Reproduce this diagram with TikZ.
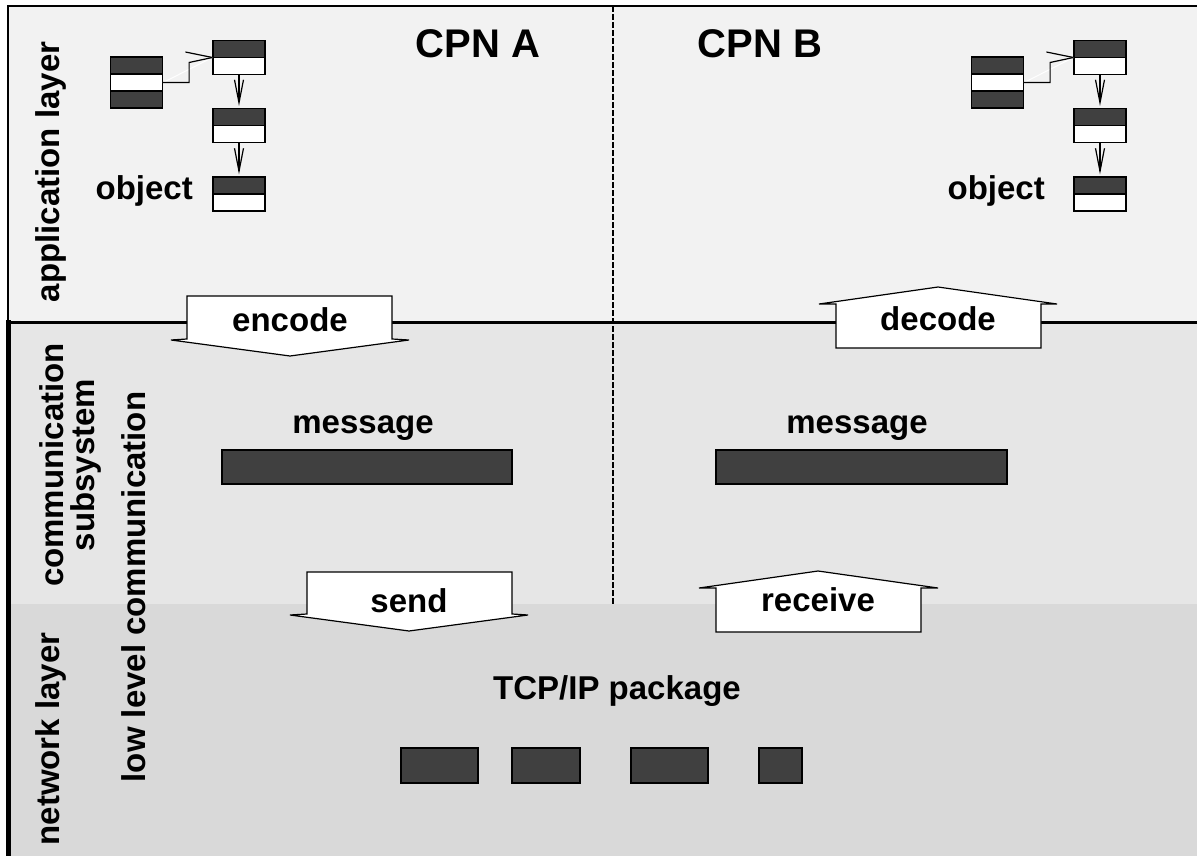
\documentclass[tikz,border=0pt]{standalone}
\usepackage{fontspec}
\setmainfont{Liberation Sans}
\usetikzlibrary{arrows.meta,calc}
\definecolor{appbg}{HTML}{F2F2F2}
\definecolor{commbg}{HTML}{E6E6E6}
\definecolor{netbg}{HTML}{D9D9D9}
\definecolor{dk}{HTML}{404040}
\begin{document}
\begin{tikzpicture}[x=1pt,y=-1pt,
  lbl/.style={font=\fontsize{33}{33}\selectfont\bfseries, inner sep=0pt},
  biglbl/.style={font=\fontsize{40}{40}\selectfont\bfseries, inner sep=0pt},
  vlbl/.style={lbl, rotate=90},
  bararrow/.style={draw=black, fill=white, line width=1.2pt, line join=miter},
  darkbox/.style={draw=black, fill=dk, line width=1.2pt},
  obj2/.style={draw=black, line width=1.2pt, fill=white, minimum width=52pt, minimum height=34pt, inner sep=0pt,
    path picture={\fill[dk] (path picture bounding box.north west) rectangle (path picture bounding box.east);
      \draw[line width=1.2pt] (path picture bounding box.west) -- (path picture bounding box.east);}},
  obj3/.style={draw=black, line width=1.2pt, fill=white, minimum width=52pt, minimum height=51pt, inner sep=0pt,
    path picture={\fill[dk] (path picture bounding box.north west) rectangle ([yshift=-17pt]path picture bounding box.north east);
      \fill[dk] (path picture bounding box.south west) rectangle ([yshift=17pt]path picture bounding box.south east);
      \draw[line width=1.2pt] ([yshift=-17pt]path picture bounding box.north west) -- ([yshift=-17pt]path picture bounding box.north east);
      \draw[line width=1.2pt] ([yshift=17pt]path picture bounding box.south west) -- ([yshift=17pt]path picture bounding box.south east);}},
  link/.style={draw=black, line width=1.2pt},
  downlink/.style={link, -{Straight Barb[length=23pt,width=9pt,line width=1.2pt]}, shorten >=2pt},
]
\useasboundingbox (0,0) rectangle (1197,856);
% backgrounds
\fill[appbg] (8,6) rectangle (1197,322);
\fill[commbg] (8,322) rectangle (1197,604);
\fill[netbg] (8,604) rectangle (1197,856);
% borders
\draw[line width=1.2pt] (1197,6) -- (8,6) -- (8,322);
\draw[line width=3pt] (8,322) -- (1197,322);
\draw[line width=5pt] (8,320) -- (8,856);
\draw[line width=1.2pt, dash pattern=on 6pt off 2pt] (613,6) -- (613,604);

% layer labels
\node[vlbl] (applayer) at (51,172) {application layer};
\node[vlbl] (comm1) at (52,465) {communication};
\node[vlbl] (comm2) at (86,465) {subsystem};
\node[vlbl] (netlayer) at (51,739) {network layer};
\node[vlbl] (lowlevel) at (134,587) {low level communication};

% CPN titles
\node[biglbl, anchor=base] (cpna) at (478,58) {CPN A};
\node[biglbl, anchor=base] (cpnb) at (760,58) {CPN B};

% objects CPN A
\node[obj3] (aL) at (136.5,82.5) {};
\node[obj2] (a1) at (239,57.5) {};
\node[obj2] (a2) at (239,125.5) {};
\node[obj2] (a3) at (239,194) {};
\node[lbl, anchor=base east] (aobj) at (193,199) {object};
\draw[white, line width=1pt] (aL.east) -- (a1.west);
\draw[link] (aL.east) -- ++(26,0) -- ++(0,-20) -- (a1.west);
\draw[link] ($(a1.west)+(-27,-5.5)$) -- (a1.west);
\draw[downlink] (a1.south) -- (a2.north);
\draw[downlink] (a2.south) -- (a3.north);

% objects CPN B
\node[obj3] (bL) at (997.5,82.5) {};
\node[obj2] (b1) at (1100,57.5) {};
\node[obj2] (b2) at (1100,125.5) {};
\node[obj2] (b3) at (1100,194) {};
\node[lbl, anchor=base east] (bobj) at (1045,199) {object};
\draw[white, line width=1pt] (bL.east) -- (b1.west);
\draw[link] (bL.east) -- ++(26,0) -- ++(0,-20) -- (b1.west);
\draw[link] ($(b1.west)+(-27,-5.5)$) -- (b1.west);
\draw[downlink] (b1.south) -- (b2.north);
\draw[downlink] (b2.south) -- (b3.north);

% encode / decode arrows
\draw[bararrow] (187,296) -- (392,296) -- (392,339) -- (409,340) -- (290,356) -- (171,340) -- (187,339) -- cycle;
\node[lbl, anchor=base] (encode) at (290,331) {encode};
\draw[bararrow] (836,348) -- (1041,348) -- (1041,304) -- (1057,304) -- (938,287) -- (819,304) -- (836,304) -- cycle;
\node[lbl, anchor=base] (decode) at (938,330) {decode};

% messages
\node[lbl, anchor=base] (msga) at (363,433) {message};
\draw[darkbox] (222,450) rectangle (512,484);
\node[lbl, anchor=base] (msgb) at (857,433) {message};
\draw[darkbox] (716,450) rectangle (1007,484);

% send / receive arrows
\draw[bararrow] (307,572) -- (512,572) -- (512,614) -- (528,615) -- (409,631) -- (290,615) -- (307,614) -- cycle;
\node[lbl, anchor=base] (send) at (409,612) {send};
\draw[bararrow] (716,632) -- (921,632) -- (921,588) -- (938,588) -- (818,571) -- (699,588) -- (716,588) -- cycle;
\node[lbl, anchor=base] (receive) at (818,611) {receive};

% network
\node[lbl, anchor=base] (tcp) at (617,699) {TCP/IP package};
\draw[darkbox] (401,748) rectangle (478,783);
\draw[darkbox] (512,748) rectangle (580,783);
\draw[darkbox] (631,748) rectangle (708,783);
\draw[darkbox] (759,748) rectangle (802,783);
\end{tikzpicture}
\end{document}
